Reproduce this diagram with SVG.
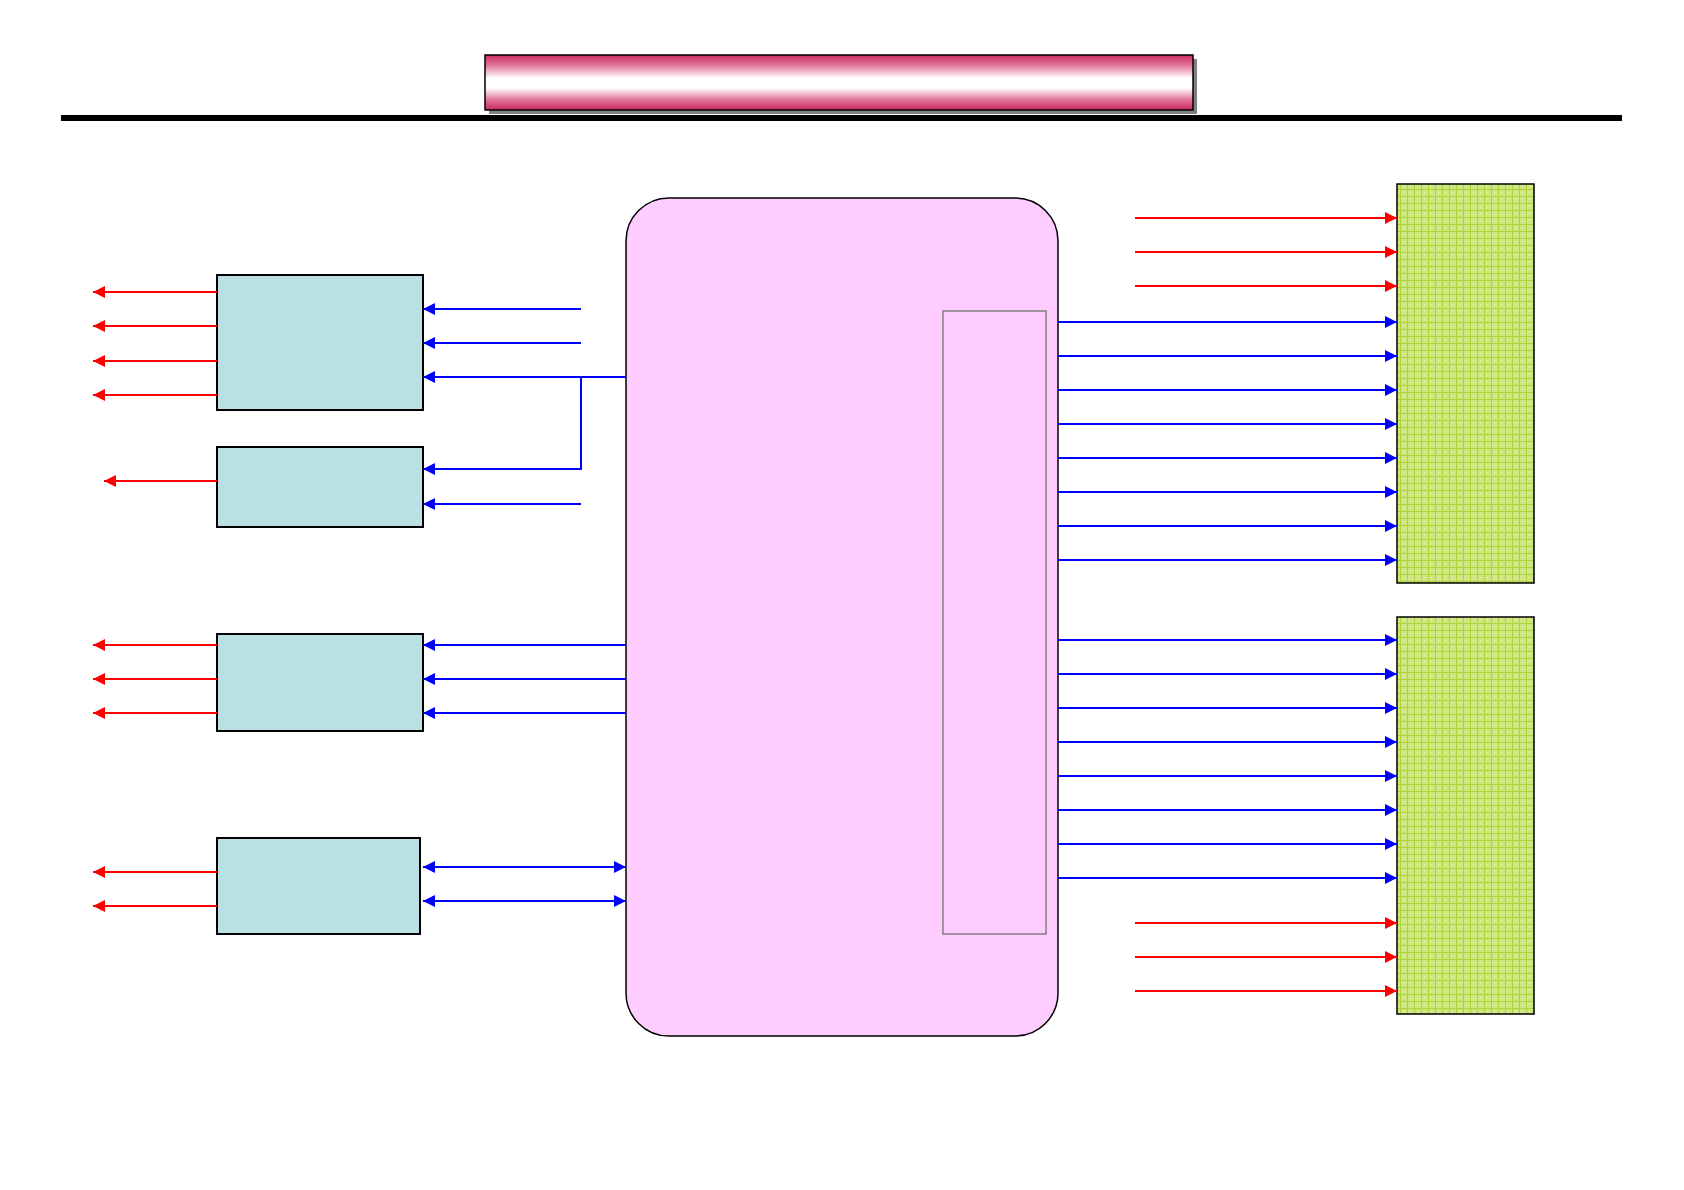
<svg xmlns="http://www.w3.org/2000/svg" width="1684" height="1190" viewBox="0 0 1684 1190">
<style>
.blk{fill:#BBE0E3;stroke:#000;stroke-width:2}
.grn{fill:url(#grid);stroke:#000;stroke-width:1.5}
.red{stroke:#FF0000;stroke-width:2;fill:none}
.blu{stroke:#0000FF;stroke-width:2;fill:none}
</style>
<defs>
<linearGradient id="tg" x1="0" y1="0" x2="0" y2="1">
<stop offset="0" stop-color="#CC2E62"/>
<stop offset="0.18" stop-color="#E07098"/>
<stop offset="0.42" stop-color="#FFFFFF"/>
<stop offset="0.6" stop-color="#FFFFFF"/>
<stop offset="0.82" stop-color="#E07098"/>
<stop offset="1" stop-color="#C82A5C"/>
</linearGradient>
<pattern id="grid" width="7" height="7" patternUnits="userSpaceOnUse">
<rect width="7" height="7" fill="#CFE783"/>
<path d="M0 0.5H7M0.5 0V7" stroke="#AED437" stroke-width="1"/>
<rect x="3" y="3" width="1" height="1" fill="#EAF5BE"/>
</pattern>
<marker id="ar" viewBox="0 0 10 10" refX="10" refY="5" markerWidth="13" markerHeight="12" markerUnits="userSpaceOnUse" orient="auto-start-reverse">
<path d="M0 0L10 5L0 10Z" fill="#FF0000"/>
</marker>
<marker id="ab" viewBox="0 0 10 10" refX="10" refY="5" markerWidth="13" markerHeight="12" markerUnits="userSpaceOnUse" orient="auto-start-reverse">
<path d="M0 0L10 5L0 10Z" fill="#0000FF"/>
</marker>
</defs>
<rect width="1684" height="1190" fill="#FFFFFF"/>
<g id="title">
<rect x="489" y="59" width="708" height="55" fill="#808080"/>
<rect x="485" y="55" width="708" height="55" fill="url(#tg)" stroke="#000" stroke-width="1.5"/>
</g>
<rect id="rule" x="61" y="115" width="1561" height="6" fill="#000"/>
<g id="main">
<rect x="626" y="198" width="432" height="838" rx="43" ry="43" fill="#FFCCFF" stroke="#000" stroke-width="1.5"/>
<rect x="943" y="311" width="103" height="623" fill="none" stroke="#808080" stroke-width="1.5"/>
</g>
<g id="box1"><rect class="blk" x="217" y="275" width="206" height="135"/></g>
<g id="box2"><rect class="blk" x="217" y="447" width="206" height="80"/></g>
<g id="box3"><rect class="blk" x="217" y="634" width="206" height="97"/></g>
<g id="box4"><rect class="blk" x="217" y="838" width="203" height="96"/></g>
<g id="green1"><rect class="grn" x="1397" y="184" width="137" height="399"/></g>
<g id="green2"><rect class="grn" x="1397" y="617" width="137" height="397"/></g>
<g id="connectors">
<g class="red" marker-end="url(#ar)">
<path d="M217 292H93"/><path d="M217 326H93"/><path d="M217 361H93"/><path d="M217 395H93"/>
<path d="M217 481H104"/>
<path d="M217 645H93"/><path d="M217 679H93"/><path d="M217 713H93"/>
<path d="M217 872H93"/><path d="M217 906H93"/>
<path d="M1135 218H1397"/><path d="M1135 252H1397"/><path d="M1135 286H1397"/>
<path d="M1135 923H1397"/><path d="M1135 957H1397"/><path d="M1135 991H1397"/>
</g>
<g class="blu" marker-end="url(#ab)">
<path d="M581 309H423"/><path d="M581 343H423"/><path d="M626 377H423"/>
<path d="M581 377V469H423"/><path d="M581 504H423"/>
<path d="M626 645H423"/><path d="M626 679H423"/><path d="M626 713H423"/>
<path d="M1058 322H1397"/><path d="M1058 356H1397"/><path d="M1058 390H1397"/><path d="M1058 424H1397"/>
<path d="M1058 458H1397"/><path d="M1058 492H1397"/><path d="M1058 526H1397"/><path d="M1058 560H1397"/>
<path d="M1058 640H1397"/><path d="M1058 674H1397"/><path d="M1058 708H1397"/><path d="M1058 742H1397"/>
<path d="M1058 776H1397"/><path d="M1058 810H1397"/><path d="M1058 844H1397"/><path d="M1058 878H1397"/>
</g>
<g class="blu" marker-start="url(#ab)" marker-end="url(#ab)">
<path d="M423 867H626"/><path d="M423 901H626"/>
</g>
</g>
</svg>
